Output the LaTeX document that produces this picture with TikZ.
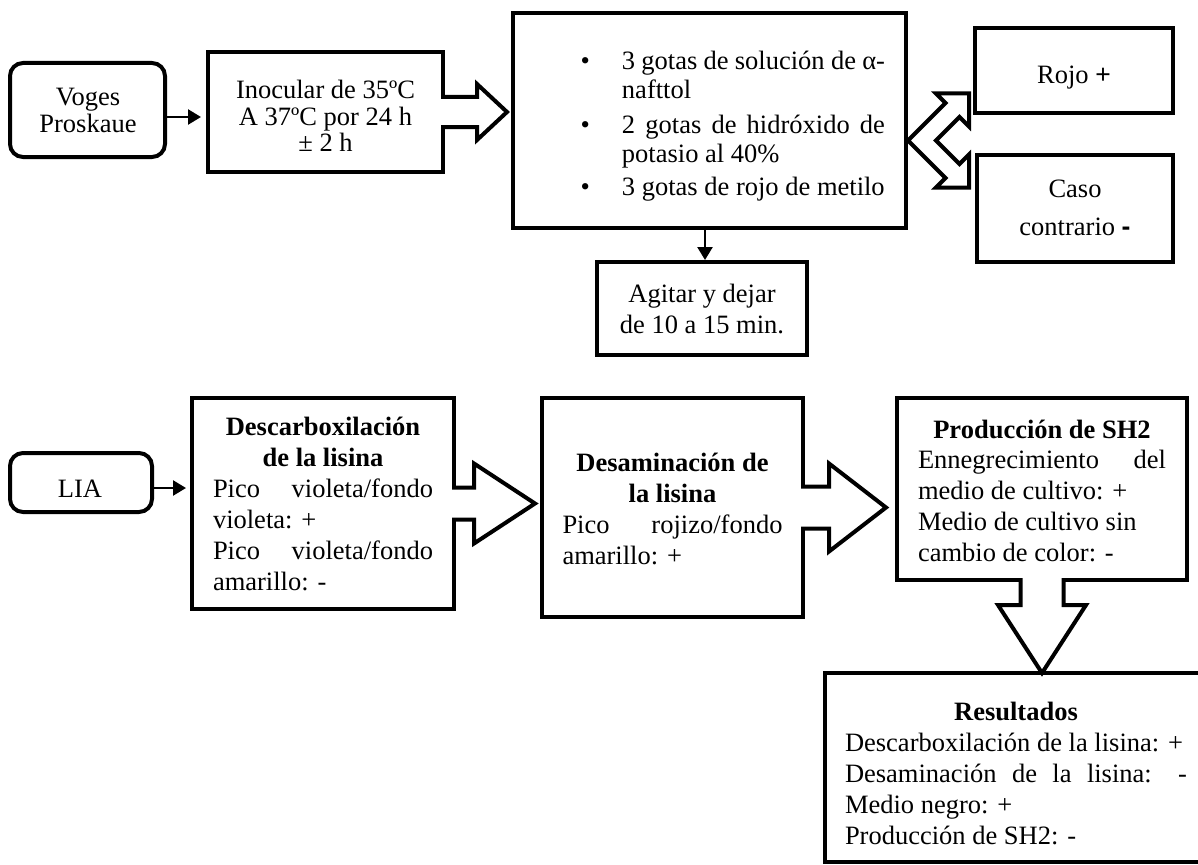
\documentclass[tikz,border=0pt]{standalone}
\usepackage{fontspec}
\setmainfont{Liberation Serif}
\setsansfont{Liberation Sans}
\usetikzlibrary{arrows.meta}

% a line stretched to a given width, and a line set flush left in a given width
\newcommand{\jrow}[2]{\makebox[#1][s]{#2}}
\newcommand{\lrow}[2]{\makebox[#1][l]{#2}}

\tikzset{
  flowbox/.style={draw, line width=4pt, fill=white, inner sep=0pt, outer sep=0pt},
  rbox/.style={flowbox, rounded corners=13pt},
  txt/.style={anchor=base, inner sep=0pt, font=\fontsize{26.5}{31}\selectfont},
  conn/.style={line width=2.5pt, -{Triangle[length=13pt,width=15pt]}},
  barrow/.style={draw, line width=4pt, fill=white, line join=miter},
}

\begin{document}
\begin{tikzpicture}[x=1pt,y=-1pt]
\useasboundingbox (0,0) rectangle (1198,864);
\fill[white] (0,0) rectangle (1198,864);
\clip (0,0) rectangle (1198,864);

% ---------- Voges-Proskauer test ----------
\node[rbox, minimum width=155pt, minimum height=94pt] (voges) at (87.5,110) {};
\node[flowbox, minimum width=235pt, minimum height=120pt] (inoc) at (325.5,112) {};
\node[flowbox, minimum width=393pt, minimum height=215pt] (mix) at (709.5,120.5) {};
\node[flowbox, minimum width=210pt, minimum height=93pt] (agitar) at (702,308.5) {};
\node[flowbox, minimum width=198pt, minimum height=85pt] (rojo) at (1074,70.5) {};
\node[flowbox, minimum width=196pt, minimum height=107pt] (caso) at (1075,208.5) {};

% ---------- LIA test ----------
\node[rbox, minimum width=142pt, minimum height=59pt] (lia) at (81,482.5) {};
\node[flowbox, minimum width=262pt, minimum height=211pt] (desc) at (323,503.5) {};
\node[flowbox, minimum width=261pt, minimum height=219pt] (desam) at (672.5,507.5) {};
\node[flowbox, minimum width=290pt, minimum height=182pt] (prod) at (1042,489) {};
\node[flowbox, minimum width=382pt, minimum height=189pt] (res) at (1016,767.5) {};

% ---------- thin connectors ----------
\draw[conn, shorten >=7pt] ([yshift=-7pt]voges.east) -- ([yshift=-5pt]inoc.west);
\draw[conn, shorten >=2pt] ([xshift=-4.5pt]mix.south) -- ([xshift=3pt]agitar.north);
\draw[conn, shorten >=6pt] ([yshift=-5.5pt]lia.east) -- ([yshift=15.5pt]desc.west);

% ---------- block arrows ----------
\draw[barrow] (inoc.east) ++(-2,-15) -- ++(36,0) -- ++(0,-13) -- ++(30,28)
  -- ++(-30,28) -- ++(0,-13) -- ++(-36,0);
\draw[barrow] (desc.east) ++(-2,-16) -- ++(22,0) -- ++(0,-24) -- ++(61,40)
  -- ++(-61,40) -- ++(0,-24) -- ++(-22,0);
\draw[barrow] (desam.east) ++(-2,-21) -- ++(28,0) -- ++(0,-23) -- ++(57,44)
  -- ++(-57,44) -- ++(0,-23) -- ++(-28,0);
\draw[barrow] (prod.south) ++(-21.5,-2) -- ++(0,27) -- ++(-22.5,0) -- ++(44,68)
  -- ++(44,-68) -- ++(-22.5,0) -- ++(0,-27);
% bent double arrow towards both results
\draw[barrow] (mix.east) ++(2,20) -- ++(37.5,-37.5) -- ++(-9.5,-9.5) -- ++(33,0)
  -- ++(0,33) -- ++(-9.5,-9.5) -- ++(-23.5,23.5) -- ++(23.5,23.5) -- ++(9.5,-9.5)
  -- ++(0,33) -- ++(-33,0) -- ++(9.5,-9.5) -- cycle;

% ---------- texts ----------
\node[txt, font=\fontsize{26.5}{26}\selectfont] (tvoges) at (88,106)
  {\begin{tabular}[t]{@{}c@{}}Voges\\Proskaue\end{tabular}};
\node[txt, font=\fontsize{26.5}{26}\selectfont] (tinoc) at (325.5,99)
  {\begin{tabular}[t]{@{}c@{}}Inocular de 35ºC\\A 37ºC por 24 h\\± 2 h\end{tabular}};
\node[txt, anchor=base west, font=\fontsize{26.5}{29}\selectfont] (tmix) at (580.5,70)
  {\begin{tabular}[t]{@{}l@{\hspace{32pt}}l@{}}
   • & \jrow{263pt}{3 gotas de solución de α-}\\
     & nafttol\\[6pt]
   • & \jrow{263pt}{2 gotas de hidróxido de}\\
     & potasio al 40\%\\[4pt]
   • & 3 gotas de rojo de metilo
   \end{tabular}};
\node[txt] (tagitar) at (702,302)
  {\begin{tabular}[t]{@{}c@{}}Agitar y dejar\\de 10 a 15 min.\end{tabular}};
\node[txt] (trojo) at (1074,84) {Rojo {\sffamily +}};
\node[txt] (tcaso) at (1075,197)
  {\begin{tabular}[t]{@{}c@{}}Caso\\[7pt]contrario {\sffamily\bfseries -}\end{tabular}};

\node[txt] (tlia) at (80,497) {LIA};
\node[txt] (tdesc) at (323,435)
  {\begin{tabular}[t]{@{}c@{}}
   \textbf{Descarboxilación}\\
   \textbf{de la lisina}\\
   \jrow{220pt}{Pico violeta/fondo}\\
   \lrow{220pt}{violeta: +}\\
   \jrow{220pt}{Pico violeta/fondo}\\
   \lrow{220pt}{amarillo: -}
   \end{tabular}};
\node[txt] (tdesam) at (672.5,471)
  {\begin{tabular}[t]{@{}c@{}}
   \textbf{Desaminación de}\\
   \textbf{la lisina}\\
   \jrow{220pt}{Pico rojizo/fondo}\\
   \lrow{220pt}{amarillo: +}
   \end{tabular}};
\node[txt, font=\fontsize{26.5}{30.75}\selectfont] (tprod) at (1042,438)
  {\begin{tabular}[t]{@{}c@{}}
   \textbf{Producción de SH2}\\
   \jrow{248pt}{Ennegrecimiento del}\\
   \lrow{248pt}{medio de cultivo: +}\\
   \lrow{248pt}{Medio de cultivo sin}\\
   \lrow{248pt}{cambio de color: -}
   \end{tabular}};
\node[txt] (tres) at (1016,720)
  {\begin{tabular}[t]{@{}c@{}}
   \textbf{Resultados}\\
   \lrow{342pt}{Descarboxilación de la lisina: +}\\
   \jrow{342pt}{Desaminación de la lisina: -}\\
   \lrow{342pt}{Medio negro: +}\\
   \lrow{342pt}{Producción de SH2: -}
   \end{tabular}};
\end{tikzpicture}
\end{document}
